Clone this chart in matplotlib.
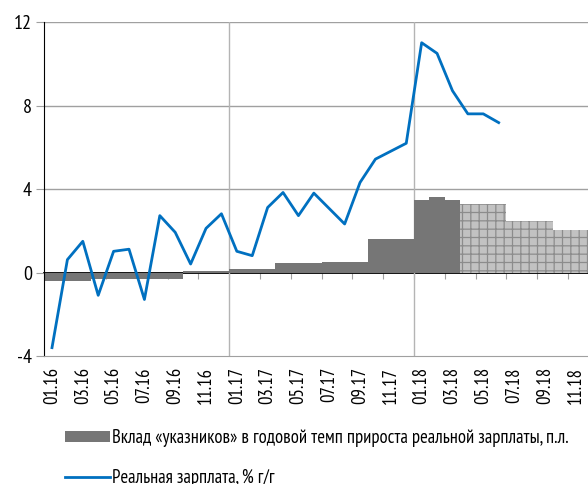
import numpy as np
import matplotlib
matplotlib.use('Agg')  # non-interactive backend
import matplotlib.pyplot as plt
from matplotlib.lines import Line2D
from matplotlib.patches import Patch

plt.rcParams['font.family'] = ['PT Sans Narrow', 'DejaVu Sans']
plt.rcParams['hatch.color'] = '#8c8c8c'
plt.rcParams['hatch.linewidth'] = 0.9

# Months 01.16 .. 12.18
months = [f'{m:02d}.{y}' for y in (16, 17, 18) for m in range(1, 13)]

# Contribution of "decree" workers to real wage growth, p.p. (monthly)
contrib = ([-0.42] * 3 + [-0.30] * 6 + [0.06] * 3 +
           [0.19] * 3 + [0.45] * 3 + [0.51] * 3 + [1.63] * 3 +
           [3.48, 3.64, 3.48] + [3.30] * 3 + [2.49] * 3 + [2.06] * 3)
n_actual = 27  # bars from 04.18 on are estimates (hatched)

# Real wage, % y/y (01.16 .. 06.18)
wage = [-3.6, 0.62, 1.5, -1.09, 1.02, 1.12, -1.29, 2.73, 1.93, 0.41, 2.12, 2.82,
        1.02, 0.81, 3.12, 3.84, 2.73, 3.81, 3.07, 2.33, 4.32, 5.44, 5.82, 6.2,
        11.02, 10.51, 8.72, 7.61, 7.61, 7.19]

tick_labels = months[::2]

fig = plt.figure(figsize=(5.88, 4.84), dpi=100)
ax = fig.add_axes([44.3 / 588, 1 - 356 / 484, 1 - 44.3 / 588, (356 - 22.3) / 484])

x = np.arange(len(months))
ax.bar(x[:n_actual], contrib[:n_actual], width=1.0, color='#767676', linewidth=0, zorder=2)
ax.bar(x[n_actual:], contrib[n_actual:], width=1.0, color='#c2c2c2', hatch='++',
       edgecolor='#8c8c8c', linewidth=0, zorder=2)
ax.plot(np.arange(len(wage)), wage, color='#0070c0', lw=2.0, zorder=4)

ax.set_xlim(-0.5, 34.8)
ax.set_ylim(-4, 12)
ax.set_yticks([-4, 0, 4, 8, 12])
ax.set_yticklabels(['-4', '0', '4', '8', '12'])
for yv in (4, 8, 12):
    ax.axhline(yv, color='#a0a0a0', lw=1, zorder=1)
for xv in (11.5, 23.5):
    ax.axvline(xv, color='#b4b4b4', lw=1, zorder=1)

ax.set_xticks(x[::2])
ax.set_xticklabels(tick_labels, rotation=90, fontsize=13.5)
ax.tick_params(axis='x', length=0, pad=8)
ax.tick_params(axis='y', labelsize=14.5, length=6, color='#a0a0a0', pad=3)
for s in ('top', 'right'):
    ax.spines[s].set_visible(False)
ax.spines['bottom'].set_color('#a0a0a0')
ax.spines['left'].set_color('black')

# zero axis with ticks between categories
zax = ax.secondary_xaxis(0.25)
zax.set_xticks(np.arange(1.5, 35, 2))
zax.set_xticklabels([])
zax.tick_params(axis='x', length=4, color='#a0a0a0', direction='out')
zax.spines['bottom'].set_color('black')
zax.spines['bottom'].set_linewidth(1.3)

handles = [Patch(facecolor='#767676', edgecolor='none'),
           Line2D([], [], color='#0070c0', lw=2)]
labels = ['Вклад «указников» в годовой темп прироста реальной зарплаты, п.л.',
          'Реальная зарплата, % г/г']
fig.legend(handles, labels, loc='upper left', bbox_to_anchor=(65 / 588, 1 - 429 / 484),
           frameon=False, fontsize=13.45, handlelength=2.4, handleheight=0.5,
           handletextpad=0.1, labelspacing=1.18, borderaxespad=0, borderpad=0)

fig.savefig('out.png', dpi=100)
